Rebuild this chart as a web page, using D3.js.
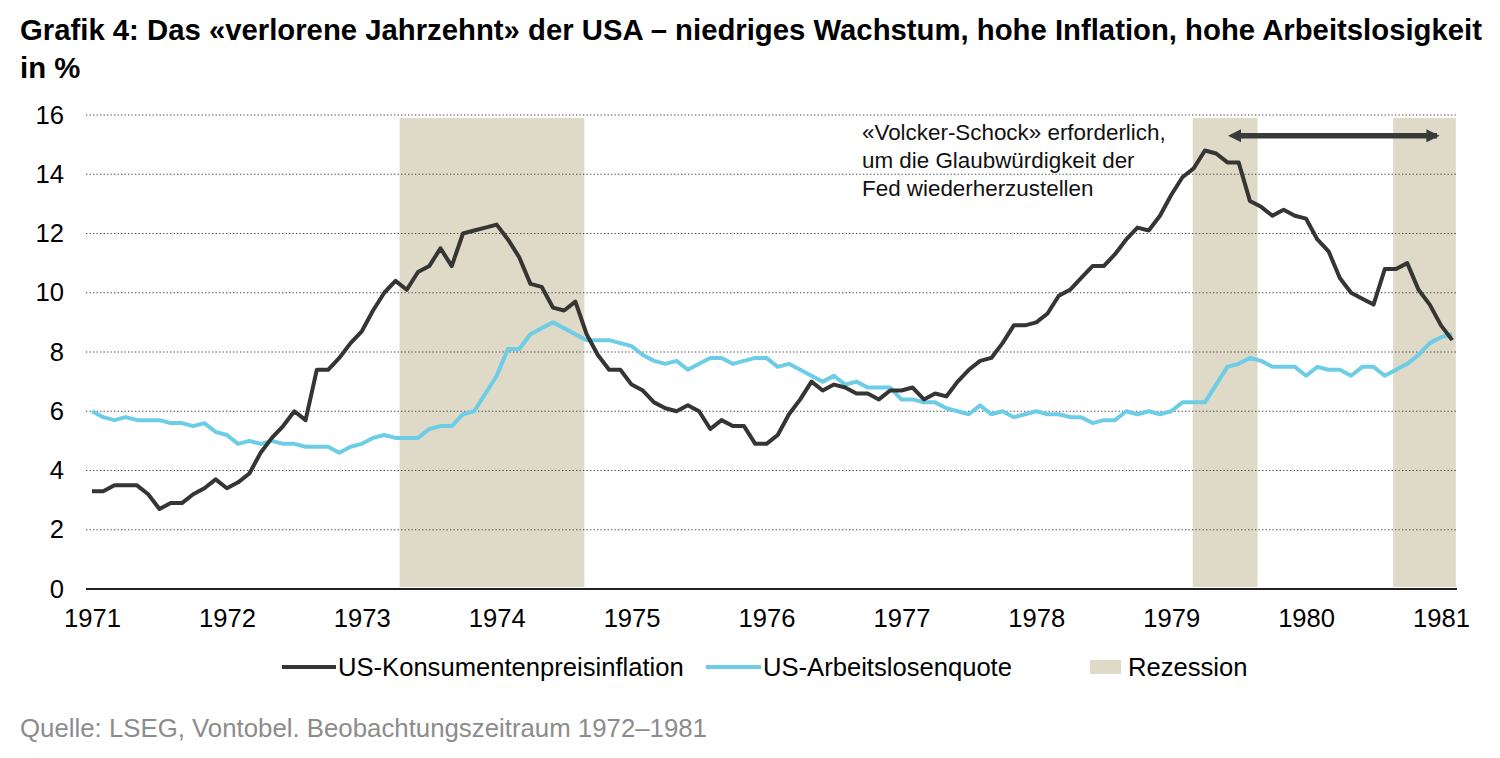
<!DOCTYPE html>
<html>
<head>
<meta charset="utf-8">
<script src="https://cdn.jsdelivr.net/npm/d3@7"></script>
<style>
  body { margin: 0; background: #fff; }
  svg { display: block; font-family: Arial, 'Liberation Sans', sans-serif; }
</style>
</head>
<body>
<svg id="chart" width="1500" height="758"></svg>
<script>
// Monthly values, first point = Dec 1971 (sits on the "1971" tick)
const startYear = 1971;
const cpiInflation = [
  3.3,
  3.3, 3.5, 3.5, 3.5, 3.2, 2.7, 2.9, 2.9, 3.2, 3.4, 3.7, 3.4,
  3.6, 3.9, 4.6, 5.1, 5.5, 6.0, 5.7, 7.4, 7.4, 7.8, 8.3, 8.7,
  9.4, 10.0, 10.4, 10.1, 10.7, 10.9, 11.5, 10.9, 12.0, 12.1, 12.2, 12.3,
  11.8, 11.2, 10.3, 10.2, 9.5, 9.4, 9.7, 8.6, 7.9, 7.4, 7.4, 6.9,
  6.7, 6.3, 6.1, 6.0, 6.2, 6.0, 5.4, 5.7, 5.5, 5.5, 4.9, 4.9,
  5.2, 5.9, 6.4, 7.0, 6.7, 6.9, 6.8, 6.6, 6.6, 6.4, 6.7, 6.7,
  6.8, 6.4, 6.6, 6.5, 7.0, 7.4, 7.7, 7.8, 8.3, 8.9, 8.9, 9.0,
  9.3, 9.9, 10.1, 10.5, 10.9, 10.9, 11.3, 11.8, 12.2, 12.1, 12.6, 13.3,
  13.9, 14.2, 14.8, 14.7, 14.4, 14.4, 13.1, 12.9, 12.6, 12.8, 12.6, 12.5,
  11.8, 11.4, 10.5, 10.0, 9.8, 9.6, 10.8, 10.8, 11.0, 10.1, 9.6, 8.9,
  8.4
];
const unemployment = [
  6.0,
  5.8, 5.7, 5.8, 5.7, 5.7, 5.7, 5.6, 5.6, 5.5, 5.6, 5.3, 5.2,
  4.9, 5.0, 4.9, 5.0, 4.9, 4.9, 4.8, 4.8, 4.8, 4.6, 4.8, 4.9,
  5.1, 5.2, 5.1, 5.1, 5.1, 5.4, 5.5, 5.5, 5.9, 6.0, 6.6, 7.2,
  8.1, 8.1, 8.6, 8.8, 9.0, 8.8, 8.6, 8.4, 8.4, 8.4, 8.3, 8.2,
  7.9, 7.7, 7.6, 7.7, 7.4, 7.6, 7.8, 7.8, 7.6, 7.7, 7.8, 7.8,
  7.5, 7.6, 7.4, 7.2, 7.0, 7.2, 6.9, 7.0, 6.8, 6.8, 6.8, 6.4,
  6.4, 6.3, 6.3, 6.1, 6.0, 5.9, 6.2, 5.9, 6.0, 5.8, 5.9, 6.0,
  5.9, 5.9, 5.8, 5.8, 5.6, 5.7, 5.7, 6.0, 5.9, 6.0, 5.9, 6.0,
  6.3, 6.3, 6.3, 6.9, 7.5, 7.6, 7.8, 7.7, 7.5, 7.5, 7.5, 7.2,
  7.5, 7.4, 7.4, 7.2, 7.5, 7.5, 7.2, 7.4, 7.6, 7.9, 8.3, 8.5,
  8.6
];
// Recession periods in axis units
const recessionStart = [1973.28, 1979.16, 1980.645];
const recessionEnd = [1974.65, 1979.64, 1981.11];
const yearTicks = [1971, 1972, 1973, 1974, 1975, 1976, 1977, 1978, 1979, 1980, 1981];
const valueTicks = [0, 2, 4, 6, 8, 10, 12, 14, 16];
const noteLines = [
  '«Volcker-Schock» erforderlich,',
  'um die Glaubwürdigkeit der',
  'Fed wiederherzustellen'
];
const arrowSpan = [1979.5, 1980.97];
const arrowValue = 15.3;

const darkColor = '#353533';
const blueColor = '#6dcde6';
const recessionColor = '#dfd9c7';
const labelSize = 25.6;

const svg = d3.select('#chart');

const xScale = d3.scaleLinear().domain([1971, 1981]).range([92, 1441]);
const yScale = d3.scaleLinear().domain([0, 16]).range([589, 115]);
const xLeft = 86, xRight = 1457;

// Title
svg.append('text')
  .attr('x', 20).attr('y', 40)
  .attr('font-size', 29.3).attr('font-weight', 'bold').attr('fill', '#000')
  .text('Grafik 4: Das «verlorene Jahrzehnt» der USA – niedriges Wachstum, hohe Inflation, hohe Arbeitslosigkeit');
svg.append('text')
  .attr('x', 20).attr('y', 78)
  .attr('font-size', 29.3).attr('font-weight', 'bold').attr('fill', '#000')
  .text('in %');

// Recession bands
const recessions = recessionStart.map((s, i) => ({ start: s, end: recessionEnd[i] }));
svg.append('g')
  .selectAll('rect')
  .data(recessions)
  .enter()
  .append('rect')
  .attr('x', (d) => xScale(d.start))
  .attr('width', (d) => xScale(d.end) - xScale(d.start))
  .attr('y', yScale(15.9))
  .attr('height', yScale(0.07) - yScale(15.9))
  .attr('fill', recessionColor);

// Dotted gridlines
svg.append('g')
  .selectAll('line')
  .data(valueTicks.filter((v) => v > 0))
  .enter()
  .append('line')
  .attr('x1', xLeft).attr('x2', xRight)
  .attr('y1', (d) => yScale(d)).attr('y2', (d) => yScale(d))
  .attr('stroke', '#444')
  .attr('stroke-width', 1.2)
  .attr('stroke-dasharray', '1.3,2.2');

// Y axis labels
const yAxis = d3.axisLeft(yScale).tickValues(valueTicks).tickSize(0).tickPadding(0);
svg.append('g')
  .attr('transform', 'translate(64,0)')
  .call(yAxis)
  .call((g) => g.select('.domain').remove())
  .selectAll('text')
  .attr('font-size', labelSize)
  .attr('font-family', 'Arial, Liberation Sans, sans-serif')
  .attr('fill', '#000');

// X axis: baseline and year labels
const xAxis = d3.axisBottom(xScale).tickValues(yearTicks).tickFormat(d3.format('d')).tickSize(0).tickPadding(20);
svg.append('g')
  .attr('transform', 'translate(0,' + yScale(0) + ')')
  .call(xAxis)
  .call((g) => g.select('.domain').remove())
  .selectAll('text')
  .attr('font-size', labelSize)
  .attr('font-family', 'Arial, Liberation Sans, sans-serif')
  .attr('fill', '#000');

svg.append('line')
  .attr('x1', xLeft).attr('x2', xRight)
  .attr('y1', yScale(0)).attr('y2', yScale(0))
  .attr('stroke', '#222').attr('stroke-width', 2);

// Series lines
const line = d3.line()
  .x((d, i) => xScale(startYear + i / 12))
  .y((d) => yScale(d));

svg.append('path')
  .datum(unemployment)
  .attr('d', line)
  .attr('fill', 'none')
  .attr('stroke', blueColor)
  .attr('stroke-width', 4)
  .attr('stroke-linejoin', 'round');

svg.append('path')
  .datum(cpiInflation)
  .attr('d', line)
  .attr('fill', 'none')
  .attr('stroke', darkColor)
  .attr('stroke-width', 4)
  .attr('stroke-linejoin', 'round');

// Annotation text
svg.append('g')
  .selectAll('text')
  .data(noteLines)
  .enter()
  .append('text')
  .attr('x', 862)
  .attr('y', (d, i) => 140 + i * 28)
  .attr('font-size', 22.4)
  .attr('fill', '#111')
  .text((d) => d);

// Double-headed arrow
const defs = svg.append('defs');
['start', 'end'].forEach((k) => {
  defs.append('marker')
    .attr('id', 'arrow-' + k)
    .attr('viewBox', '0 0 10 10')
    .attr('refX', k === 'end' ? 8 : 2).attr('refY', 5)
    .attr('markerWidth', 2.4).attr('markerHeight', 2.4)
    .attr('orient', k === 'end' ? 'auto' : 'auto-start-reverse')
    .append('path')
    .attr('d', 'M0,0 L10,5 L0,10 Z')
    .attr('fill', '#3a3a3a');
});
svg.append('line')
  .attr('x1', xScale(arrowSpan[0])).attr('x2', xScale(arrowSpan[1]))
  .attr('y1', yScale(arrowValue)).attr('y2', yScale(arrowValue))
  .attr('stroke', '#3a3a3a')
  .attr('stroke-width', 5.5)
  .attr('marker-start', 'url(#arrow-start)')
  .attr('marker-end', 'url(#arrow-end)');

// Legend
const legendY = 667;
svg.append('line')
  .attr('x1', 282).attr('x2', 336).attr('y1', legendY).attr('y2', legendY)
  .attr('stroke', darkColor).attr('stroke-width', 4);
svg.append('text')
  .attr('x', 338).attr('y', legendY + 9)
  .attr('font-size', labelSize).attr('fill', '#000')
  .text('US-Konsumentenpreisinflation');
svg.append('line')
  .attr('x1', 706).attr('x2', 761).attr('y1', legendY).attr('y2', legendY)
  .attr('stroke', blueColor).attr('stroke-width', 4);
svg.append('text')
  .attr('x', 763).attr('y', legendY + 9)
  .attr('font-size', labelSize).attr('fill', '#000')
  .text('US-Arbeitslosenquote');
svg.append('rect')
  .attr('x', 1090).attr('y', legendY - 7).attr('width', 31).attr('height', 14)
  .attr('fill', recessionColor);
svg.append('text')
  .attr('x', 1128).attr('y', legendY + 9)
  .attr('font-size', labelSize).attr('fill', '#000')
  .text('Rezession');

// Source line
svg.append('text')
  .attr('x', 20).attr('y', 737)
  .attr('font-size', 25.8).attr('fill', '#8c8c8c')
  .text('Quelle: LSEG, Vontobel. Beobachtungszeitraum 1972–1981');
</script>
</body>
</html>
